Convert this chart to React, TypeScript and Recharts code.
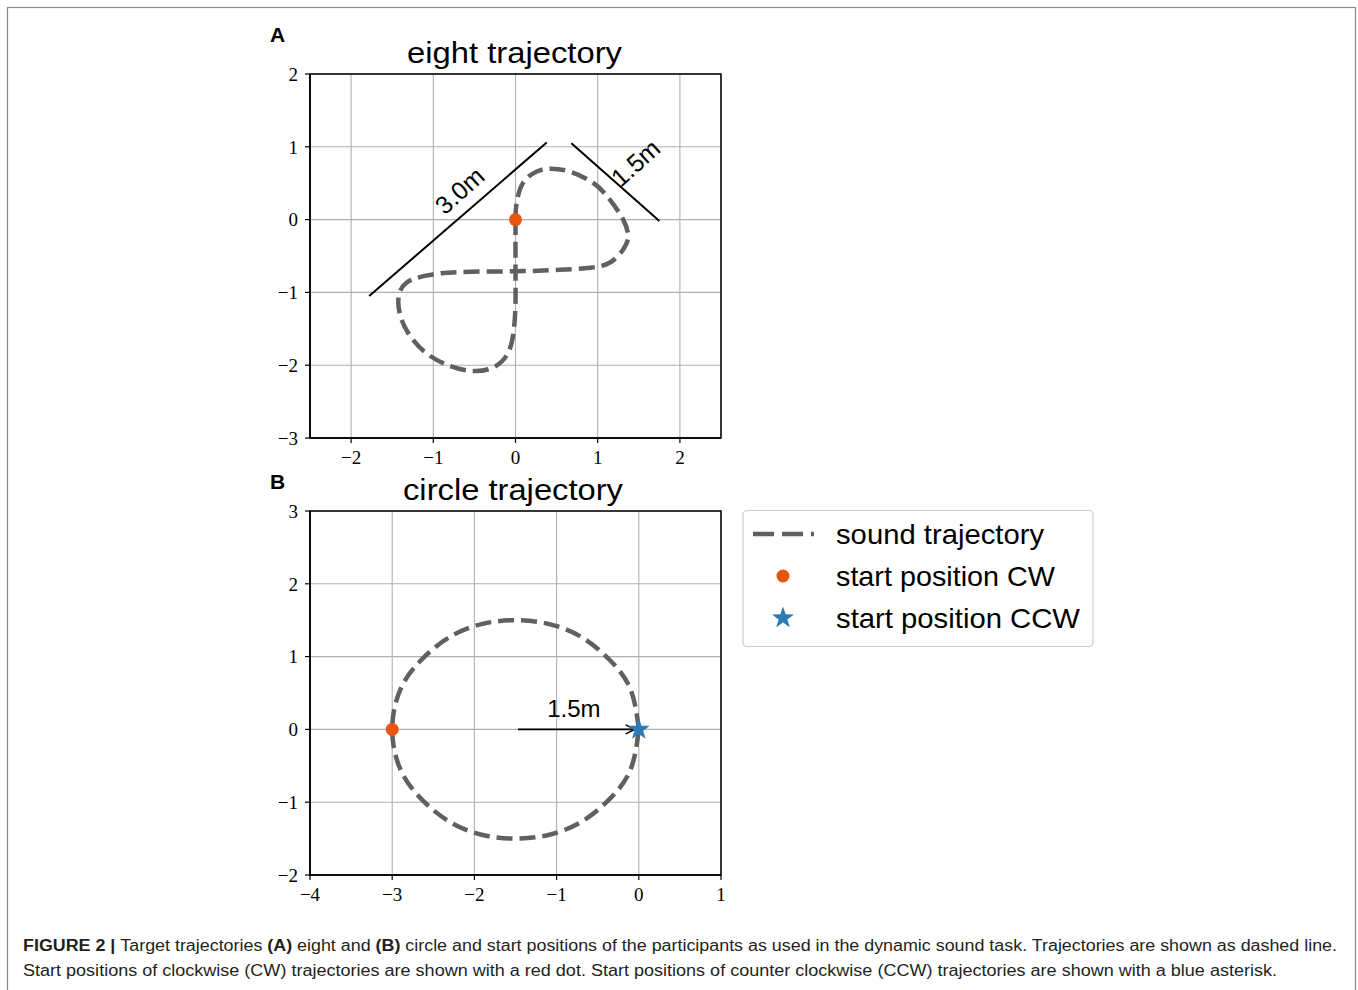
import React from 'react';
import {
  ComposedChart,
  Line,
  Scatter,
  XAxis,
  YAxis,
  CartesianGrid,
  ReferenceLine,
  ReferenceArea,
  ReferenceDot,
} from 'recharts';

// ---------- data ----------
const eightX = [0, 0.01, 0.09, 0.26, 0.42, 0.66, 0.95, 1.15, 1.31, 1.37, 1.31, 1.15, 0.91, 0.54, 0, -0.68, -1.09, -1.33, -1.42, -1.41, -1.31, -1.09, -0.8, -0.52, -0.27, -0.09, -0.02, 0, 0, 0, 0];
const eightY = [0, 0.2, 0.5, 0.66, 0.7, 0.66, 0.5, 0.27, 0.0, -0.23, -0.41, -0.59, -0.66, -0.69, -0.71, -0.72, -0.77, -0.87, -1.05, -1.28, -1.55, -1.83, -2.01, -2.08, -2.03, -1.83, -1.51, -1.14, -0.71, -0.35, 0];

const circleX = [0, -0.1, -0.35, -0.7, -1.1, -1.5, -1.9, -2.3, -2.65, -2.9, -3, -2.9, -2.65, -2.3, -1.9, -1.5, -1.1, -0.7, -0.35, -0.1, 0];
const circleY = [0, 0.55, 0.95, 1.27, 1.45, 1.5, 1.45, 1.27, 0.95, 0.55, 0, -0.55, -0.95, -1.27, -1.45, -1.5, -1.45, -1.27, -0.95, -0.55, 0];

const eightStartCW = [{ x: 0, y: 0 }];
const circleStartCW = [{ x: -3, y: 0 }];
const circleStartCCW = [{ x: 0, y: 0 }];

const eightXTicks = [-2, -1, 0, 1, 2];
const eightYTicks = [-3, -2, -1, 0, 1, 2];
const circleXTicks = [-4, -3, -2, -1, 0, 1];
const circleYTicks = [-2, -1, 0, 1, 2, 3];

const eightData = eightX.map((x, i) => ({ x, y: eightY[i] }));
const circleData = circleX.map((x, i) => ({ x, y: circleY[i] }));

// annotation segments (data coordinates)
const seg30 = [{ x: -1.78, y: -1.05 }, { x: 0.38, y: 1.06 }];
const seg15 = [{ x: 0.68, y: 1.05 }, { x: 1.75, y: -0.02 }];
const radiusArrow = [{ x: -1.47, y: 0 }, { x: -0.05, y: 0 }];

const CW_COLOR = '#e6550d';
const CCW_COLOR = '#2c7bb6';
const TRAJ_COLOR = '#606060';
const GRID_COLOR = '#b0b0b0';

const fmt = (v: number) => (v < 0 ? '\u2212' + Math.abs(v) : String(v));

const DotShape = (props: any) => {
  const { cx, cy } = props;
  if (cx == null || cy == null) return null;
  return <circle cx={cx} cy={cy} r={6.5} fill={CW_COLOR} />;
};

const starPoints = (cx: number, cy: number, ro: number, ri: number) => {
  const pts: string[] = [];
  for (let i = 0; i < 10; i++) {
    const r = i % 2 === 0 ? ro : ri;
    const a = -Math.PI / 2 + (i * Math.PI) / 5;
    pts.push(`${cx + r * Math.cos(a)},${cy + r * Math.sin(a)}`);
  }
  return pts.join(' ');
};

const StarShape = (props: any) => {
  const { cx, cy } = props;
  if (cx == null || cy == null) return null;
  return <polygon points={starPoints(cx, cy, 11.5, 4.6)} fill={CCW_COLOR} />;
};

const ArrowShape = (p: any) => {
  const { x1, y1, x2, y2 } = p;
  return (
    <g>
      <line x1={x1} y1={y1} x2={x2} y2={y2} stroke="#000" strokeWidth={1.6} />
      <path
        d={`M${x2 - 9},${y2 - 4.5} L${x2},${y2} L${x2 - 9},${y2 + 4.5}`}
        fill="none"
        stroke="#000"
        strokeWidth={1.6}
      />
    </g>
  );
};

const tickStyle = { fontFamily: 'Liberation Serif', fontSize: 19, fill: '#000' };
const CHART_MARGIN = { top: 54, right: 29, bottom: 2, left: 10 };

export default function App() {
  return (
    <div
      style={{
        position: 'absolute',
        left: 0,
        top: 0,
        width: 1358,
        height: 990,
        background: '#fff',
        fontFamily: 'Liberation Sans, Arial, sans-serif',
        overflow: 'hidden',
      }}
    >
      <svg
        width={1358}
        height={990}
        style={{ position: 'absolute', left: 0, top: 0 }}
        fontFamily="Liberation Sans, Arial, sans-serif"
      >
        <rect x={7.5} y={7.5} width={1348} height={1000} fill="none" stroke="#8a8a8a" strokeWidth={1.2} />
        {/* panel letters */}
        <text x={270} y={42} fontSize={21} fontWeight="bold" fill="#000">A</text>
        <text x={270} y={489} fontSize={21} fontWeight="bold" fill="#000">B</text>
        {/* titles */}
        <text x={407} y={63} fontSize={29} fill="#000" textLength={215} lengthAdjust="spacingAndGlyphs">eight trajectory</text>
        <text x={403} y={500} fontSize={29} fill="#000" textLength={220} lengthAdjust="spacingAndGlyphs">circle trajectory</text>
        {/* legend */}
        <rect x={743} y={510.5} width={350} height={136} rx={4} ry={4} fill="#fff" stroke="#cccccc" strokeWidth={1.2} />
        <line x1={753} y1={534} x2={814} y2={534} stroke={TRAJ_COLOR} strokeWidth={4.5} strokeDasharray="21 8" />
        <circle cx={783} cy={576} r={6.5} fill={CW_COLOR} />
        <polygon points={starPoints(783, 618, 11.5, 4.6)} fill={CCW_COLOR} />
        <text x={836} y={544} fontSize={28} fill="#000" textLength={208} lengthAdjust="spacingAndGlyphs">sound trajectory</text>
        <text x={836} y={586} fontSize={28} fill="#000" textLength={219} lengthAdjust="spacingAndGlyphs">start position CW</text>
        <text x={836} y={628} fontSize={28} fill="#000" textLength={244} lengthAdjust="spacingAndGlyphs">start position CCW</text>
        {/* caption */}
        <text x={23} y={951} fontSize={16} fill="#231f20" textLength={1314} lengthAdjust="spacingAndGlyphs">
          <tspan fontWeight="bold">FIGURE 2 | </tspan>
          <tspan>Target trajectories </tspan>
          <tspan fontWeight="bold">(A)</tspan>
          <tspan> eight and </tspan>
          <tspan fontWeight="bold">(B)</tspan>
          <tspan> circle and start positions of the participants as used in the dynamic sound task. Trajectories are shown as dashed line.</tspan>
        </text>
        <text x={23} y={976} fontSize={16} fill="#231f20" textLength={1254} lengthAdjust="spacingAndGlyphs">
          Start positions of clockwise (CW) trajectories are shown with a red dot. Start positions of counter clockwise (CCW) trajectories are shown with a blue asterisk.
        </text>
      </svg>

      {/* Panel A */}
      <div style={{ position: 'absolute', left: 250, top: 20 }}>
        <ComposedChart width={500} height={450} data={eightData} margin={CHART_MARGIN}>
          <CartesianGrid stroke={GRID_COLOR} strokeWidth={1.1} />
          <XAxis
            dataKey="x"
            type="number"
            domain={[-2.5, 2.5]}
            ticks={eightXTicks}
            allowDataOverflow
            tickFormatter={fmt}
            tick={tickStyle}
            tickSize={5}
            tickMargin={8}
            height={30}
            axisLine={{ stroke: '#000', strokeWidth: 1.5 }}
            tickLine={{ stroke: '#000', strokeWidth: 1.2 }}
          />
          <YAxis
            dataKey="y"
            type="number"
            domain={[-3, 2]}
            ticks={eightYTicks}
            allowDataOverflow
            tickFormatter={fmt}
            tick={tickStyle}
            tickSize={5}
            tickMargin={7}
            width={50}
            axisLine={{ stroke: '#000', strokeWidth: 1.5 }}
            tickLine={{ stroke: '#000', strokeWidth: 1.2 }}
          />
          <ReferenceArea x1={-2.5} x2={2.5} y1={-3} y2={2} fill="none" fillOpacity={0} stroke="#000" strokeWidth={1.5} />
          <ReferenceLine segment={seg30} stroke="#000" strokeWidth={2} />
          <ReferenceLine segment={seg15} stroke="#000" strokeWidth={2} />
          <ReferenceDot
            x={-0.68}
            y={0.4}
            r={1}
            fill="none"
            stroke="none"
            label={{ value: '3.0m', position: 'center', angle: -42, fontSize: 25, fill: '#000', fontFamily: 'Liberation Sans' }}
          />
          <ReferenceDot
            x={1.46}
            y={0.78}
            r={1}
            fill="none"
            stroke="none"
            label={{ value: '1.5m', position: 'center', angle: -42, fontSize: 25, fill: '#000', fontFamily: 'Liberation Sans' }}
          />
          <Line
            dataKey="y"
            type="natural"
            stroke={TRAJ_COLOR}
            strokeWidth={4.5}
            strokeDasharray="16 7"
            dot={false}
            activeDot={false}
            isAnimationActive={false}
          />
          <Scatter data={eightStartCW} dataKey="y" shape={DotShape} isAnimationActive={false} />
        </ComposedChart>
      </div>

      {/* Panel B */}
      <div style={{ position: 'absolute', left: 250, top: 457 }}>
        <ComposedChart width={500} height={450} data={circleData} margin={CHART_MARGIN}>
          <CartesianGrid stroke={GRID_COLOR} strokeWidth={1.1} />
          <XAxis
            dataKey="x"
            type="number"
            domain={[-4, 1]}
            ticks={circleXTicks}
            allowDataOverflow
            tickFormatter={fmt}
            tick={tickStyle}
            tickSize={5}
            tickMargin={8}
            height={30}
            axisLine={{ stroke: '#000', strokeWidth: 1.5 }}
            tickLine={{ stroke: '#000', strokeWidth: 1.2 }}
          />
          <YAxis
            dataKey="y"
            type="number"
            domain={[-2, 3]}
            ticks={circleYTicks}
            allowDataOverflow
            tickFormatter={fmt}
            tick={tickStyle}
            tickSize={5}
            tickMargin={7}
            width={50}
            axisLine={{ stroke: '#000', strokeWidth: 1.5 }}
            tickLine={{ stroke: '#000', strokeWidth: 1.2 }}
          />
          <ReferenceArea x1={-4} x2={1} y1={-2} y2={3} fill="none" fillOpacity={0} stroke="#000" strokeWidth={1.5} />
          <ReferenceLine segment={radiusArrow} stroke="#000" strokeWidth={1.6} shape={ArrowShape} />
          <ReferenceDot
            x={-0.79}
            y={0.29}
            r={1}
            fill="none"
            stroke="none"
            label={{ value: '1.5m', position: 'center', fontSize: 24, fill: '#000', fontFamily: 'Liberation Sans' }}
          />
          <Line
            dataKey="y"
            type="natural"
            stroke={TRAJ_COLOR}
            strokeWidth={4.5}
            strokeDasharray="16 7"
            dot={false}
            activeDot={false}
            isAnimationActive={false}
          />
          <Scatter data={circleStartCW} dataKey="y" shape={DotShape} isAnimationActive={false} />
          <Scatter data={circleStartCCW} dataKey="y" shape={StarShape} isAnimationActive={false} />
        </ComposedChart>
      </div>
    </div>
  );
}
